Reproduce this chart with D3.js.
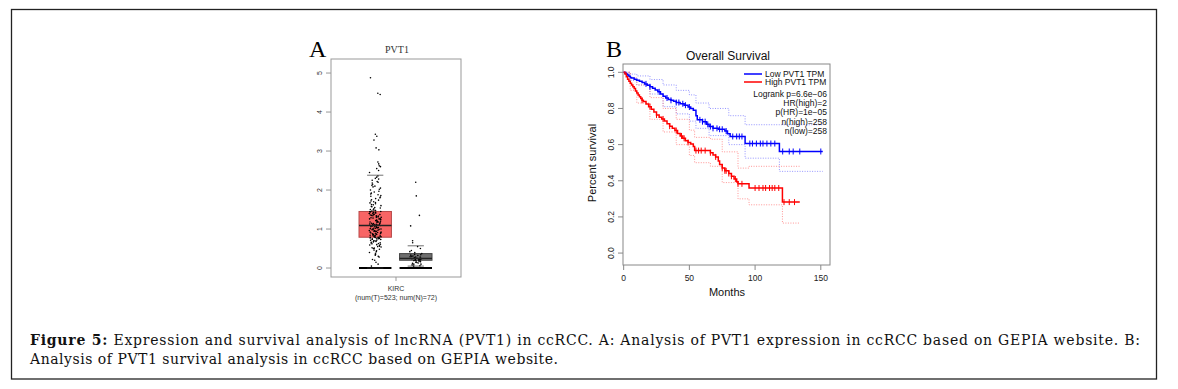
<!DOCTYPE html>
<html>
<head>
<meta charset="utf-8">
<script src="https://cdn.jsdelivr.net/npm/d3@7"></script>
<style>
  body { margin: 0; background: #fff; }
  svg { display: block; }
</style>
</head>
<body>
<div id="plot"></div>
<script>
//Panel A data: expression values (log2(TPM+1))
const groups = ["Tumor", "Normal"];
const tumorValues = [0.05,0.1,0.15,0.2,0.22,0.28,0.3,0.33,0.35,0.38,0.4,0.42,0.44,0.46,0.48,0.5,0.51,0.52,0.54,0.55,0.56,0.58,0.59,0.6,0.61,0.62,0.63,0.64,0.65,0.66,0.67,0.68,0.69,0.7,0.7,0.71,0.72,0.73,0.74,0.74,0.75,0.76,0.76,0.77,0.78,0.78,0.79,0.79,0.8,0.8,
  0.81,0.82,0.82,0.83,0.84,0.84,0.85,0.86,0.86,0.87,0.88,0.88,0.89,0.9,0.9,0.91,0.92,0.92,0.93,0.94,0.94,0.95,0.96,0.96,0.97,0.98,0.98,0.99,1.0,1.0,1.01,1.02,1.02,1.03,1.04,1.04,1.05,1.06,1.06,1.07,1.08,1.08,1.09,1.09,1.1,1.1,1.1,1.11,1.11,1.12,
  1.12,1.13,1.14,1.14,1.15,1.16,1.17,1.18,1.18,1.19,1.2,1.21,1.22,1.22,1.23,1.24,1.25,1.26,1.26,1.27,1.28,1.29,1.3,1.3,1.31,1.32,1.33,1.34,1.34,1.35,1.36,1.37,1.37,1.38,1.39,1.4,1.4,1.41,1.42,1.42,1.43,1.44,1.44,1.45,1.45,1.46,1.47,1.48,1.49,1.5,
  1.52,1.54,1.55,1.57,1.58,1.6,1.62,1.63,1.65,1.67,1.68,1.7,1.72,1.74,1.75,1.78,1.8,1.82,1.84,1.86,1.88,1.9,1.92,1.95,1.97,2.0,2.02,2.05,2.08,2.1,2.12,2.15,2.18,2.2,2.22,2.25,2.28,2.3,2.33,2.36,
  2.45,2.5,2.55,2.6,2.62,2.67,2.72,3.03,3.08,3.28,3.38,3.43,4.45,4.48,4.88];
const normalValues = [0.05,0.06,0.08,0.1,0.1,0.12,0.13,0.14,0.15,0.16,0.17,0.18,0.18,0.19,0.2,0.2,0.21,0.22,0.22,0.23,0.24,0.24,0.25,0.25,0.26,0.27,0.28,0.28,0.29,0.3,0.31,0.32,0.33,0.34,0.35,0.37,0.4,0.42,0.45,0.5,0.55,0.65,0.7,1.08,1.35,1.85,2.2];
//Box statistics per group: [lower whisker, Q1, median, Q3, upper whisker]
const tumorBox = [0.0, 0.79, 1.09, 1.45, 2.38];
const normalBox = [0.05, 0.2, 0.25, 0.37, 0.57];
const exprTicks = [0, 1, 2, 3, 4, 5];

//Panel B data: Kaplan-Meier curves (months, survival)
const lowTime = [0,1,2,3,4,5,6,8,10,12,14,16,18,20,22,24,26,28,30,32,34,36,38,40,43,46,49,51,53,55,56,60,63,65,68,72,77,79,81,92.4,118.5,151.5];
const lowSurv = [1,0.995,0.99,0.985,0.978,0.972,0.968,0.962,0.956,0.95,0.944,0.936,0.928,0.92,0.912,0.902,0.892,0.88,0.868,0.858,0.85,0.845,0.84,0.833,0.826,0.818,0.808,0.8,0.79,0.76,0.737,0.727,0.712,0.7,0.69,0.685,0.675,0.66,0.645,0.606,0.562,0.562];
const highTime = [0,1,2,3,4,5,6,7,8,9,10,11,12,13,14,15,17,19,21,23,25,27,29,31,33,35,37,39,41,43,45,47,49,51,53,54,66,68,70,72,73,75,77,80,82,84,86,87,95.4,120.8,134];
const highSurv = [1,0.99,0.975,0.962,0.95,0.94,0.93,0.92,0.91,0.897,0.885,0.875,0.865,0.855,0.845,0.838,0.825,0.81,0.795,0.78,0.764,0.752,0.742,0.73,0.715,0.702,0.69,0.678,0.662,0.648,0.635,0.622,0.612,0.603,0.59,0.567,0.555,0.543,0.532,0.51,0.49,0.47,0.455,0.44,0.425,0.41,0.395,0.383,0.36,0.282,0.282];
//95% confidence bands
const lowUpTime = [0,5,10,20,30,40,50,55,65,80,92.4,118.5,151.5];
const lowUpSurv = [1,0.99,0.98,0.96,0.93,0.9,0.875,0.83,0.8,0.76,0.71,0.71,0.71];
const lowLoTime = [0,5,10,20,30,40,50,55,65,80,92.4,118.5,151.5];
const lowLoSurv = [1,0.955,0.93,0.88,0.81,0.77,0.73,0.69,0.65,0.6,0.525,0.452,0.452];
const highUpTime = [0,5,10,20,30,40,50,54,66,75,87,95.4,120.8,134];
const highUpSurv = [1,0.97,0.93,0.86,0.8,0.74,0.68,0.64,0.63,0.56,0.47,0.48,0.48,0.48];
const highLoTime = [0,5,10,20,30,40,50,54,66,75,87,95.4,120.8,134];
const highLoSurv = [1,0.9,0.83,0.74,0.67,0.6,0.54,0.5,0.48,0.39,0.3,0.267,0.166,0.166];
//Censoring times
const lowCensor = [17,20,27,33,36,40,42,45,47,50,58,60,62,64,66,68,71,73,75,78,83,86,88,90,96,98,101,104,106,109,112,115,121,126,129,134,150];
const highCensor = [14,20,25,30,35,40,44,46,49,55,57,59,62,66,70,75,77,78,80,82,85,87,90,100,103,106,108,111,113,115,118,122,126,130];
const survTicks = [0, 0.2, 0.4, 0.6, 0.8, 1.0];
const monthTicks = [0, 50, 100, 150];
const legendLabels = ["Low PVT1 TPM", "High PVT1 TPM"];
const statLabels = ["Logrank p=6.6e\u221206", "HR(high)=2", "p(HR)=1e\u221205", "n(high)=258", "n(low)=258"];

const w = 1178;
const h = 389;
const svg = d3.select("#plot").append("svg").attr("width", w).attr("height", h);

//Outer figure frame
svg.append("rect")
  .attr("x", 11.5).attr("y", 9.5).attr("width", 1145).attr("height", 369.5)
  .attr("fill", "none").attr("stroke", "#222").attr("stroke-width", 1.3);

//---------------- Panel A: boxplot ----------------
const yA = d3.scaleLinear().domain([-0.23, 5.36]).range([277, 59]);
const xA = d3.scaleBand().domain(groups).range([359, 432]).paddingInner(0.2);
const boxA = { x0: 331, x1: 461 };

svg.append("text").attr("x", 309).attr("y", 57)
  .attr("font-family", "Liberation Serif").attr("font-size", 24).text("A");
svg.append("text").attr("x", 397).attr("y", 53).attr("text-anchor", "middle")
  .attr("font-family", "Liberation Serif").attr("font-size", 10).attr("fill", "#333").text("PVT1");

svg.append("rect")
  .attr("x", boxA.x0).attr("y", yA(5.36)).attr("width", boxA.x1 - boxA.x0).attr("height", yA(-0.23) - yA(5.36))
  .attr("fill", "none").attr("stroke", "#999").attr("stroke-width", 1);

//Y axis ticks, labels rotated like R's default
const gA = svg.append("g");
gA.selectAll("line.tick").data(exprTicks).join("line")
  .attr("x1", boxA.x0 - 5).attr("x2", boxA.x0)
  .attr("y1", d => yA(d)).attr("y2", d => yA(d)).attr("stroke", "#999");
gA.selectAll("text.tick").data(exprTicks).join("text")
  .attr("transform", d => "translate(322," + yA(d) + ") rotate(-90)")
  .attr("text-anchor", "middle")
  .attr("font-family", "Liberation Sans").attr("font-size", 7).attr("fill", "#333")
  .text(d => d);

//X axis tick and label
svg.append("line").attr("x1", 396).attr("x2", 396).attr("y1", yA(-0.23)).attr("y2", yA(-0.23) + 4).attr("stroke", "#999");
svg.append("text").attr("x", 396).attr("y", 291).attr("text-anchor", "middle")
  .attr("font-family", "Liberation Sans").attr("font-size", 7).attr("fill", "#333").text("KIRC");
svg.append("text").attr("x", 396).attr("y", 300).attr("text-anchor", "middle")
  .attr("font-family", "Liberation Sans").attr("font-size", 7).attr("fill", "#333").text("(num(T)=523; num(N)=72)");

const boxData = [
  { g: "Tumor", s: tumorBox, vals: tumorValues, fill: "#f86565", stroke: "#b84a4a" },
  { g: "Normal", s: normalBox, vals: normalValues, fill: "#6e6e6e", stroke: "#444" }
];
const boxes = svg.selectAll("g.box").data(boxData).join("g");
//Thick baseline at zero
boxes.append("line")
  .attr("x1", d => xA(d.g)).attr("x2", d => xA(d.g) + xA.bandwidth())
  .attr("y1", yA(0)).attr("y2", yA(0)).attr("stroke", "#000").attr("stroke-width", 2);
//Whisker caps
boxes.append("line")
  .attr("x1", d => xA(d.g) + xA.bandwidth() * 0.25).attr("x2", d => xA(d.g) + xA.bandwidth() * 0.75)
  .attr("y1", d => yA(d.s[4])).attr("y2", d => yA(d.s[4])).attr("stroke", "#333").attr("stroke-width", 0.7);
boxes.append("line")
  .attr("x1", d => xA(d.g) + xA.bandwidth() * 0.25).attr("x2", d => xA(d.g) + xA.bandwidth() * 0.75)
  .attr("y1", d => yA(d.s[0])).attr("y2", d => yA(d.s[0])).attr("stroke", "#333").attr("stroke-width", 0.7);
boxes.append("rect")
  .attr("x", d => xA(d.g)).attr("width", xA.bandwidth())
  .attr("y", d => yA(d.s[3])).attr("height", d => yA(d.s[1]) - yA(d.s[3]))
  .attr("fill", d => d.fill).attr("stroke", d => d.stroke).attr("stroke-width", 1);
//Jittered points: fixed hash of the index, so the layout is the same every run
const jitter = (i) => { const s = Math.sin(i * 12.9898 + 78.233) * 43758.5453; return s - Math.floor(s) - 0.5; };
boxes.selectAll("circle").data(d => d.vals.map((v, i) => ({ v: v, i: i, g: d.g }))).join("circle")
  .attr("cx", d => xA(d.g) + xA.bandwidth() / 2 + jitter(d.i + (d.g === "Normal" ? 500 : 0)) * 12)
  .attr("cy", d => yA(d.v)).attr("r", 0.8).attr("fill", "#000");
boxes.append("line")
  .attr("x1", d => xA(d.g)).attr("x2", d => xA(d.g) + xA.bandwidth())
  .attr("y1", d => yA(d.s[2])).attr("y2", d => yA(d.s[2])).attr("stroke", "#222").attr("stroke-width", 1.3);

//---------------- Panel B: survival curves ----------------
const xB = d3.scaleLinear().domain([-0.5, 157]).range([623, 830]);
const yB = d3.scaleLinear().domain([-0.066, 1.046]).range([265, 64]);

svg.append("text").attr("x", 606).attr("y", 57)
  .attr("font-family", "Liberation Serif").attr("font-size", 24).text("B");
svg.append("text").attr("x", 728).attr("y", 60).attr("text-anchor", "middle")
  .attr("font-family", "Liberation Sans").attr("font-size", 12).attr("fill", "#111").text("Overall Survival");

svg.append("rect")
  .attr("x", xB(-0.5)).attr("y", yB(1.046)).attr("width", xB(157) - xB(-0.5)).attr("height", yB(-0.066) - yB(1.046))
  .attr("fill", "none").attr("stroke", "#888").attr("stroke-width", 1);

const gB = svg.append("g");
gB.selectAll("line.yt").data(survTicks).join("line")
  .attr("x1", xB(-0.5) - 5).attr("x2", xB(-0.5))
  .attr("y1", d => yB(d)).attr("y2", d => yB(d)).attr("stroke", "#888");
gB.selectAll("text.yt").data(survTicks).join("text")
  .attr("transform", d => "translate(614," + yB(d) + ") rotate(-90)")
  .attr("text-anchor", "middle")
  .attr("font-family", "Liberation Sans").attr("font-size", 8.5).attr("fill", "#222")
  .text(d => d3.format(".1f")(d));
gB.selectAll("line.xt").data(monthTicks).join("line")
  .attr("x1", d => xB(d)).attr("x2", d => xB(d))
  .attr("y1", yB(-0.066)).attr("y2", yB(-0.066) + 5).attr("stroke", "#888");
gB.selectAll("text.xt").data(monthTicks).join("text")
  .attr("x", d => xB(d)).attr("y", 281).attr("text-anchor", "middle")
  .attr("font-family", "Liberation Sans").attr("font-size", 8.5).attr("fill", "#222")
  .text(d => d);
svg.append("text").attr("x", 727).attr("y", 296).attr("text-anchor", "middle")
  .attr("font-family", "Liberation Sans").attr("font-size", 11).attr("fill", "#111").text("Months");
svg.append("text").attr("transform", "translate(596,163) rotate(-90)").attr("text-anchor", "middle")
  .attr("font-family", "Liberation Sans").attr("font-size", 11).attr("fill", "#111").text("Percent survival");

const step = d3.line().x(d => xB(d[0])).y(d => yB(d[1])).curve(d3.curveStepAfter);
const zip = (t, s) => t.map((v, i) => [v, s[i]]);

//Confidence bands (dotted)
const bands = [
  { t: lowUpTime, s: lowUpSurv, c: "#7a7aff" }, { t: lowLoTime, s: lowLoSurv, c: "#7a7aff" },
  { t: highUpTime, s: highUpSurv, c: "#ff7a7a" }, { t: highLoTime, s: highLoSurv, c: "#ff7a7a" }
];
svg.selectAll("path.band").data(bands).join("path")
  .attr("d", d => step(zip(d.t, d.s)))
  .attr("fill", "none").attr("stroke", d => d.c).attr("stroke-width", 0.8).attr("stroke-dasharray", "1,1.5");

//Main KM curves
const curves = [
  { t: lowTime, s: lowSurv, cens: lowCensor, c: "#0000ff" },
  { t: highTime, s: highSurv, cens: highCensor, c: "#ff0000" }
];
svg.selectAll("path.km").data(curves).join("path")
  .attr("d", d => step(zip(d.t, d.s)))
  .attr("fill", "none").attr("stroke", d => d.c).attr("stroke-width", 1.5);

//Censor marks: looked up on the step curve
const survAt = (d, m) => d.s[d3.bisectRight(d.t, m) - 1];
curves.forEach(d => {
  svg.append("g").selectAll("line").data(d.cens).join("line")
    .attr("x1", m => xB(m)).attr("x2", m => xB(m))
    .attr("y1", m => yB(survAt(d, m)) - 3).attr("y2", m => yB(survAt(d, m)) + 3)
    .attr("stroke", d.c).attr("stroke-width", 1);
});

//Legend
const legend = svg.selectAll("g.leg").data(legendLabels).join("g")
  .attr("transform", (d, i) => "translate(744," + (74 + i * 8) + ")");
legend.append("line").attr("x1", 0).attr("x2", 18)
  .attr("stroke", (d, i) => i === 0 ? "#0000ff" : "#ff0000").attr("stroke-width", 1.5);
legend.append("text").attr("x", 21).attr("y", 3)
  .attr("font-family", "Liberation Sans").attr("font-size", 8.5).attr("fill", "#111").text(d => d);
svg.selectAll("text.stat").data(statLabels).join("text")
  .attr("x", 827).attr("y", (d, i) => 96.5 + i * 9.4).attr("text-anchor", "end")
  .attr("font-family", "Liberation Sans").attr("font-size", 8.5).attr("fill", "#111").text(d => d);

//---------------- Caption ----------------
const cap1 = svg.append("text").attr("x", 30).attr("y", 345)
  .attr("font-family", "DejaVu Serif").attr("font-size", 14).attr("fill", "#111")
  .attr("textLength", 1110).attr("lengthAdjust", "spacing");
cap1.append("tspan").attr("font-weight", "bold").text("Figure 5:");
cap1.append("tspan").text(" Expression and survival analysis of lncRNA (PVT1) in ccRCC. A: Analysis of PVT1 expression in ccRCC based on GEPIA website. B:");
svg.append("text").attr("x", 30).attr("y", 364)
  .attr("font-family", "DejaVu Serif").attr("font-size", 14).attr("fill", "#111")
  .attr("textLength", 528).attr("lengthAdjust", "spacing")
  .text("Analysis of PVT1 survival analysis in ccRCC based on GEPIA website.");
</script>
</body>
</html>
